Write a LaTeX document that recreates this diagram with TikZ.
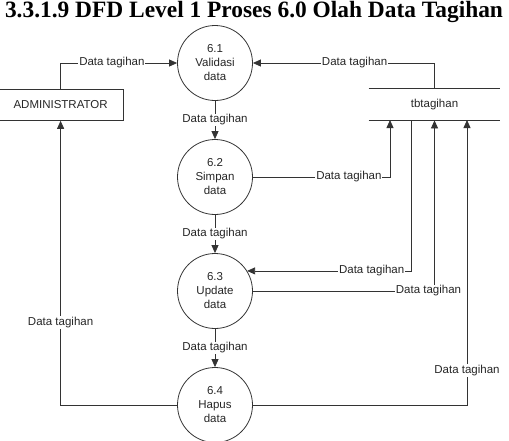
\documentclass[tikz,border=0pt]{standalone}
\usepackage{fontspec}
\setmainfont{Liberation Sans}
\newfontfamily\titlefont{Liberation Serif}
\usetikzlibrary{arrows.meta}

\tikzset{
  proc/.style = {draw, circle, minimum size=75pt, inner sep=0pt, align=center},
  flow/.style = {-{Triangle[length=8pt,width=7pt]}},
  lbl/.style = {fill=white, inner sep=1pt}
}

\begin{document}
\begin{tikzpicture}[x=1pt, y=-1pt, node distance=114pt, line width=0.8pt,
    draw=black!80, text=black!85, font=\fontsize{11.5}{14}\selectfont]
    \useasboundingbox (0,0) rectangle (509,440);

    \node[anchor=base, font=\titlefont\bfseries\fontsize{23.4}{26}\selectfont, text=black] (title) at (254,17)
        {3.3.1.9 DFD Level 1 Proses 6.0 Olah Data Tagihan};

    % processes
    \node[proc] (c1) at (215,63) {6.1\\Validasi\\data};
    \node[proc, below of=c1] (c2) {6.2\\Simpan\\data};
    \node[proc, below of=c2] (c3) {6.3\\Update\\data};
    \node[proc, below of=c3] (c4) {6.4\\Hapus\\data};

    % entity and data store
    \node[draw, rectangle, minimum width=126pt, minimum height=31pt, inner sep=0pt, anchor=north east] (admin) at (124,89) {ADMINISTRATOR};
    \node[rectangle, minimum width=131pt, minimum height=31pt, inner sep=0pt] (store) at (434.5,104.5) {tbtagihan};
    \draw (store.north west) -- (store.north east);
    \draw (store.south west) -- (store.south east);

    \coordinate (s1) at (390,120);
    \coordinate (s2) at (411,120);
    \coordinate (s4) at (467,120);

    % flows
    \draw[flow] (admin.north) |- node[lbl, pos=0.72] {Data tagihan} (c1.west);
    \draw[flow] (store.north) |- node[lbl, pos=0.72] {Data tagihan} (c1.east);
    \draw[flow] (c1) -- node[lbl] {Data tagihan} (c2);
    \draw[flow] (c2.east) -| node[lbl, pos=0.35] {Data tagihan} (s1);
    \draw[flow] (c2) -- node[lbl] {Data tagihan} (c3);
    \draw[flow] (s2) |- node[lbl, pos=0.62] {Data tagihan} (c3.32);
    \draw[flow] (c3.east) -| node[lbl, pos=0.5, xshift=-6pt] {Data tagihan} (store.south);
    \draw[flow] (c3) -- node[lbl] {Data tagihan} (c4);
    \draw[flow] (c4.west) -| node[lbl, pos=0.645] {Data tagihan} (admin.south);
    \draw[flow] (c4.east) -| node[lbl, pos=0.56] {Data tagihan} (s4);
\end{tikzpicture}
\end{document}
